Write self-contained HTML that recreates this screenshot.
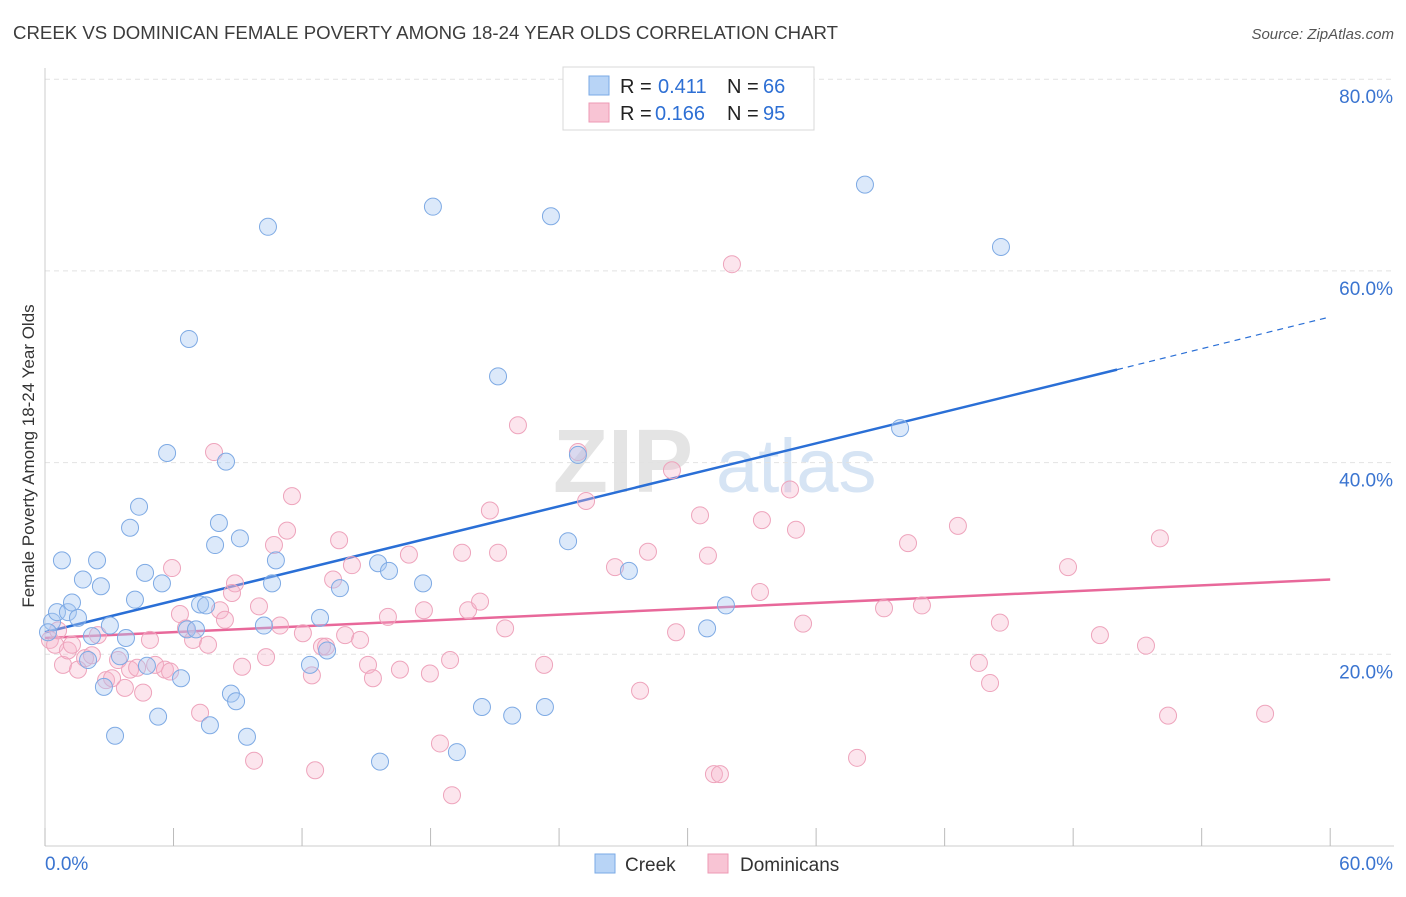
<!DOCTYPE html>
<html><head><meta charset="utf-8"><style>
body{margin:0;background:#fff;font-family:"Liberation Sans",sans-serif;}
svg text{font-family:"Liberation Sans",sans-serif;}
</style></head><body>
<svg id="chart" width="1406" height="892" viewBox="0 0 1406 892" xmlns="http://www.w3.org/2000/svg">
<text x="13" y="39" font-size="18" fill="#3c3c3c" textLength="825" lengthAdjust="spacingAndGlyphs">CREEK VS DOMINICAN FEMALE POVERTY AMONG 18-24 YEAR OLDS CORRELATION CHART</text>
<text x="1394" y="39" font-size="15" fill="#555" text-anchor="end" font-style="italic">Source: ZipAtlas.com</text>
<g>
<text x="553" y="492" font-size="90" font-family="Liberation Serif" font-weight="bold" fill="#e4e4e4">ZIP</text>
<text x="716" y="492" font-size="76" fill="#d6e4f4">atlas</text>
</g>
<g id="grid"></g>
<g id="axes"></g>
<g id="lines"></g>
<g id="points"></g>
<text transform="translate(34,456) rotate(-90)" font-size="17" fill="#333" text-anchor="middle">Female Poverty Among 18-24 Year Olds</text>
<g>
<rect x="563" y="67" width="251" height="63" fill="#fff" stroke="#d8d8d8"/>
<rect x="589" y="76" width="20" height="19" fill="#b8d4f6" stroke="#7aaae6"/>
<rect x="589" y="103" width="20" height="19" fill="#f8c4d4" stroke="#ee9ab4"/>
<text x="620" y="93" font-size="20" fill="#222">R =</text>
<text x="658" y="93" font-size="20" fill="#2d6fd4">0.411</text>
<text x="727" y="93" font-size="20" fill="#222">N =</text>
<text x="763" y="93" font-size="20" fill="#2d6fd4">66</text>
<text x="620" y="120" font-size="20" fill="#222">R =</text>
<text x="655" y="120" font-size="20" fill="#2d6fd4">0.166</text>
<text x="727" y="120" font-size="20" fill="#222">N =</text>
<text x="763" y="120" font-size="20" fill="#2d6fd4">95</text>
</g>
<g>
<rect x="595" y="854" width="20" height="19" fill="#b8d4f6" stroke="#7aaae6"/>
<text x="625" y="871" font-size="19" fill="#333">Creek</text>
<rect x="708" y="854" width="20" height="19" fill="#f8c4d4" stroke="#ee9ab4"/>
<text x="740" y="871" font-size="19" fill="#333">Dominicans</text>
</g>
</svg>
<script>
const creekX=[0.33,0.56,0.79,1.07,1.26,1.54,1.77,2.01,2.19,2.43,2.61,2.75,3.03,3.27,3.50,3.78,3.97,4.20,4.39,4.67,4.76,5.28,5.46,5.70,6.35,6.63,6.72,7.05,7.24,7.52,7.70,7.94,8.12,8.45,8.68,8.92,9.10,9.43,10.22,10.41,10.60,10.78,12.37,12.84,13.17,13.77,15.55,16.06,17.65,18.11,15.64,19.23,20.40,21.15,21.81,23.34,23.62,24.42,24.88,27.26,30.91,31.79,38.28,39.92,44.63,0.14];
const creekY=[23.4,24.4,29.8,24.4,25.4,23.8,27.8,19.4,21.9,29.8,27.1,16.6,23.0,11.5,19.8,21.7,33.2,25.7,35.4,28.5,18.8,13.5,27.4,41.0,17.5,22.6,52.9,22.6,25.2,25.1,12.6,31.4,33.7,40.1,15.9,15.1,32.1,11.4,23.0,64.6,27.4,29.8,18.9,23.8,20.4,26.9,29.5,28.7,27.4,66.7,8.8,9.8,14.5,49.0,13.6,14.5,65.7,31.8,40.8,28.7,22.7,25.1,69.0,43.6,62.5,22.3];
const domX=[0.23,0.47,0.61,0.84,1.07,1.26,1.54,1.87,2.19,2.47,2.85,3.13,3.41,3.73,3.97,4.30,4.58,4.90,5.14,5.60,5.93,6.30,6.58,6.91,7.24,7.61,7.89,8.17,8.40,8.87,9.20,9.76,9.99,10.32,10.69,10.97,11.30,11.53,12.04,12.46,12.61,12.93,13.45,13.73,14.01,14.33,14.71,15.08,15.31,16.01,16.57,16.99,17.69,17.97,18.44,18.91,19.00,19.47,19.75,20.31,20.77,21.15,21.48,22.08,23.30,24.88,25.26,26.61,27.78,28.15,29.27,29.46,30.58,30.95,31.23,31.51,32.07,33.38,33.47,34.78,35.06,35.39,37.91,39.17,40.29,40.94,42.62,43.60,44.12,44.58,47.76,49.25,51.40,52.05,52.43,56.96,8.73,5.84,13.12];
const domY=[21.5,21.0,22.5,18.9,20.4,21.0,18.4,19.6,19.9,22.0,17.3,17.5,19.4,16.5,18.4,18.6,16.0,21.5,18.9,18.4,29.0,24.2,22.7,21.5,13.9,21.0,41.1,24.6,23.6,27.4,18.7,8.9,25.0,19.7,31.4,23.0,32.9,36.5,22.2,17.8,7.9,20.8,27.8,31.9,22.0,29.3,21.5,18.9,17.5,23.9,18.4,30.4,24.6,18.0,10.7,19.4,5.3,30.6,24.6,25.5,35.0,30.6,22.7,43.9,18.9,41.1,36.0,29.1,16.2,30.7,39.2,22.3,34.5,30.3,7.5,7.5,60.7,26.5,34.0,37.2,33.0,23.2,9.2,24.8,31.6,25.1,33.4,19.1,17.0,23.3,29.1,22.0,20.9,32.1,13.6,13.8,26.4,18.2,20.8];
const creekTrend=[[0,22.3],[50.05,49.7],[60,55.2]];
const domTrend=[[0,21.7],[60,27.8]];
const yTicks=[20,40,60,80];
const yTickLabels=["20.0%","40.0%","60.0%","80.0%"];
const xTicks=[0,6,12,18,24,30,36,42,48,54,60];

const sx=v=>45+v*21.42, sy=v=>846-v*9.585;
const NS="http://www.w3.org/2000/svg";
function mk(tag,attrs,parent){const e=document.createElementNS(NS,tag);for(const k in attrs)e.setAttribute(k,attrs[k]);parent.appendChild(e);return e;}
const grid=document.getElementById('grid'),axes=document.getElementById('axes'),lines=document.getElementById('lines'),pts=document.getElementById('points');
yTicks.forEach((t,i)=>{
 const l=mk('line',{x1:45,x2:1394,y1:sy(t),y2:sy(t),stroke:'#e2e2e2','stroke-dasharray':'5,4'},grid);
 
 
 const tx=mk('text',{x:1393,y:sy(t)+24,'font-size':19,fill:'#3a74d0','text-anchor':'end'},axes);
 tx.textContent=yTickLabels[i];
 
 
});
mk('line',{x1:45,x2:1394,y1:846,y2:846,stroke:'#ccc'},axes);
mk('line',{x1:45,x2:45,y1:68,y2:846,stroke:'#ccc'},axes);
xTicks.forEach(t=>{
 const l=mk('line',{x1:sx(t),x2:sx(t),y1:828,y2:846,stroke:'#bbb'},axes);
 
 
});
const x0=mk('text',{x:45,y:870,'font-size':19,fill:'#3a74d0'},axes);x0.textContent="0.0%";


const x1=mk('text',{x:1393,y:870,'font-size':19,fill:'#3a74d0','text-anchor':'end'},axes);x1.textContent="60.0%";



function dots(X,Y,fill,stroke,name){X.forEach((x,i)=>{
 const c=mk('circle',{cx:sx(x),cy:sy(Y[i]),r:8.5,fill:fill,stroke:stroke,'stroke-width':1},pts);
 
 
});}
dots(domX,domY,'rgba(246,180,202,0.35)','#eea4bc','dominican-point');
dots(creekX,creekY,'rgba(168,200,242,0.4)','#7eaae4','creek-point');

const cl=mk('line',{x1:sx(creekTrend[0][0]),y1:sy(creekTrend[0][1]),x2:sx(creekTrend[1][0]),y2:sy(creekTrend[1][1]),stroke:'#2a6fd6','stroke-width':2.5},lines);


const cd=mk('line',{x1:sx(creekTrend[1][0]),y1:sy(creekTrend[1][1]),x2:sx(creekTrend[2][0]),y2:sy(creekTrend[2][1]),stroke:'#2a6fd6','stroke-width':1.2,'stroke-dasharray':'6,5'},lines);


const dl=mk('line',{x1:sx(domTrend[0][0]),y1:sy(domTrend[0][1]),x2:sx(domTrend[1][0]),y2:sy(domTrend[1][1]),stroke:'#e8689a','stroke-width':2.5},lines);


</script>
</body></html>
